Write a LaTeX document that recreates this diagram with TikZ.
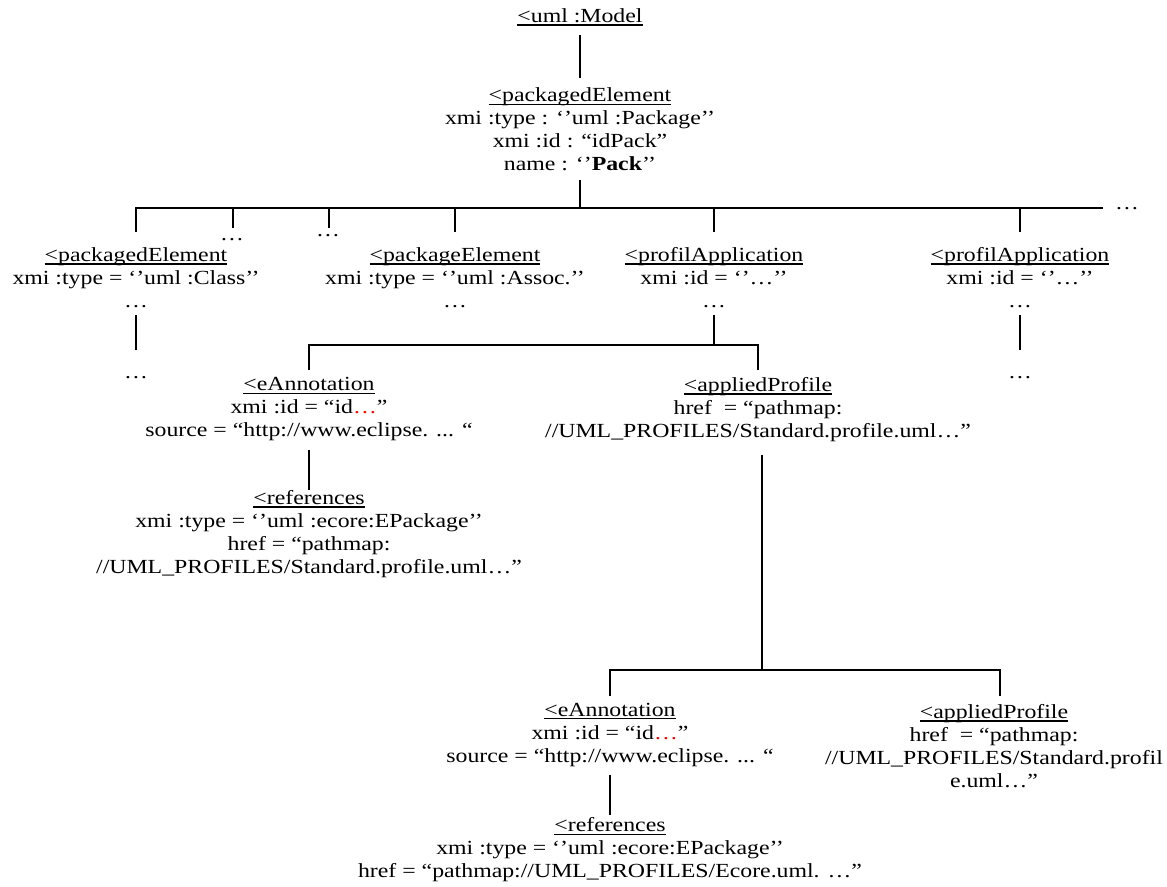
\documentclass[tikz,border=0pt]{standalone}
\usepackage{fontspec}
\setmainfont[FakeStretch=1.19]{Liberation Serif}
\newcommand\ulx[1]{\setbox0\hbox{#1}\rlap{\rule[-3.2pt]{\wd0}{1.4pt}}\box0}
\begin{document}
\begin{tikzpicture}[x=1pt,y=-1pt,
  lbl/.style={inner sep=0pt,align=center,font=\fontsize{20}{23}\selectfont},
  conn/.style={line width=1.6pt}]
\useasboundingbox (0,0) rectangle (1167,886);
% nodes
\node[lbl] (model) at (580,17) {\ulx{<uml :Model}};
\node[lbl] (pkg) at (580,129.5) {\ulx{<packagedElement}\\xmi :type : ‘’uml :Package’’\\xmi :id : “idPack”\\name : ‘’\textbf{Pack}’’};
\node[lbl] (cls) at (136,277.5) {\ulx{<packagedElement}\\xmi :type = ‘’uml :Class’’\\…};
\node[lbl] (clsb) at (136,378) {…};
\node[lbl] (d1) at (232,240) {…};
\node[lbl] (d2) at (328,236) {…};
\node[lbl] (assoc) at (455,277.5) {\ulx{<packageElement}\\xmi :type = ‘’uml :Assoc.’’\\…};
\node[lbl] (prof1) at (714,277.5) {\ulx{<profilApplication}\\xmi :id = ‘’…’’\\…};
\node[lbl] (prof2) at (1020,277.5) {\ulx{<profilApplication}\\xmi :id = ‘’…’’\\…};
\node[lbl] (prof2b) at (1020,378) {…};
\node[lbl] (busdots) at (1127,209) {…};
\node[lbl] (ea1) at (309,409.5) {\ulx{<eAnnotation}\\xmi :id = “id\textcolor{red}{…}”\\source = “http://www.eclipse. ... “};
\node[lbl] (ref1) at (309,534) {\ulx{<references}\\xmi :type = ‘’uml :ecore:EPackage’’\\href = “pathmap:\\//UML\_PROFILES/Standard.profile.uml…”};
\node[lbl] (ap1) at (758,409.5) {\ulx{<appliedProfile}\\href~ = “pathmap:\\//UML\_PROFILES/Standard.profile.uml…”};
\node[lbl] (ea2) at (610,734.5) {\ulx{<eAnnotation}\\xmi :id = “id\textcolor{red}{…}”\\source = “http://www.eclipse. ... “};
\node[lbl] (ref2) at (610,850) {\ulx{<references}\\xmi :type = ‘’uml :ecore:EPackage’’\\href = “pathmap://UML\_PROFILES/Ecore.uml. …”};
\node[lbl] (ap2) at (994,746) {\ulx{<appliedProfile}\\href~ = “pathmap:\\//UML\_PROFILES/Standard.profil\\e.uml…”};
% coordinates
\coordinate (busL) at (136,208);
\coordinate (busR) at (1103,208);
\coordinate (busC) at (580,208);
\coordinate (bus2L) at (309,345);
\coordinate (bus2R) at (758,345);
\coordinate (bus2C) at (714,345);
\coordinate (bus3L) at (610,670);
\coordinate (bus3R) at (1000,670);
\coordinate (bus3C) at (762,670);
% connectors
\draw[conn] (580,35) -- (580,78);
\draw[conn] (580,180) -- (busC);
\draw[conn] (136,232) -- (busL) -- (busR);
\draw[conn] (233,208) -- (233,228);
\draw[conn] (329,208) -- (329,228);
\draw[conn] (455,208) -- (455,232);
\draw[conn] (714,208) -- (714,232);
\draw[conn] (1020,208) -- (1020,232);
\draw[conn] (136,315) -- (136,350);
\draw[conn] (1020,315) -- (1020,350);
\draw[conn] (714,315) -- (bus2C);
\draw[conn] (309,370) -- (bus2L) -- (bus2R) -- (758,370);
\draw[conn] (309,450) -- (309,490);
\draw[conn] (762,455) -- (bus3C);
\draw[conn] (610,696) -- (bus3L) -- (bus3R) -- (1000,696);
\draw[conn] (610,775) -- (610,815);
\end{tikzpicture}
\end{document}
